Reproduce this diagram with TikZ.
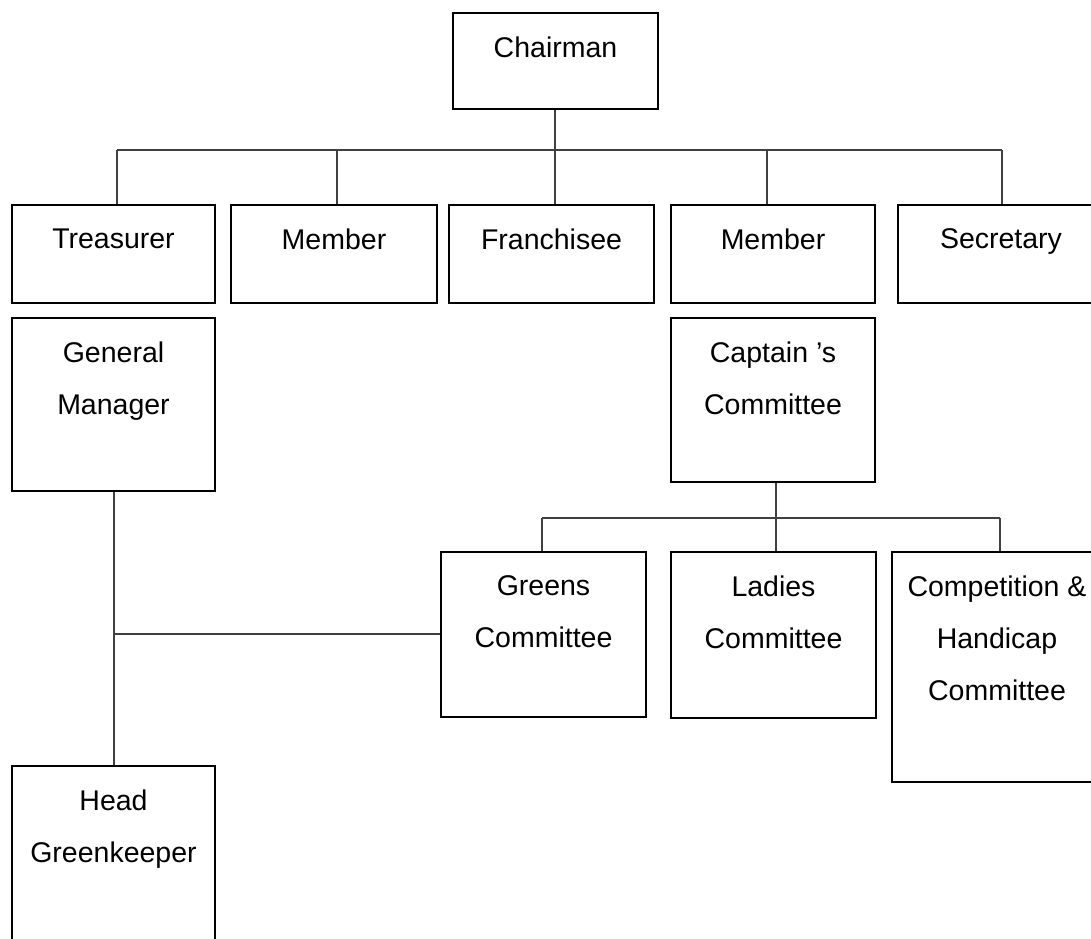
\documentclass[tikz,border=0pt]{standalone}
\usepackage{fontspec}
\setmainfont{Liberation Sans}
\begin{document}
\begin{tikzpicture}[x=1pt,y=-1pt,
  box/.style={draw=black,line width=1.6pt,fill=white,inner sep=0pt},
  lbl/.style={font=\fontsize{28.5}{52}\selectfont,align=center,anchor=north,inner sep=0pt},
  conn/.style={draw=black!75,line width=1.6pt}]
\clip (0,0) rectangle (1091,938);
\fill[white] (0,0) rectangle (1091,938);
% boxes (x1,y1) to (x2,y2)
\newcommand{\orgbox}[6]{%
  \node[box,minimum width={#4-#2},minimum height={#5-#3}] (#1) at ({(#2+#4)/2},{(#3+#5)/2}) {};
  \node[lbl] (#1-t) at ([yshift=-24pt]#1.north) {#6};}
\orgbox{chair}{453}{13}{658}{109}{Chairman}
\orgbox{treas}{12}{205}{215}{303}{Treasurer}
\orgbox{memA}{231}{205}{437}{303}{Member}
\orgbox{fran}{449}{205}{654}{303}{Franchisee}
\orgbox{memB}{671}{205}{875}{303}{Member}
\orgbox{secr}{898}{205}{1104}{303}{Secretary}
\orgbox{gm}{12}{318}{215}{491}{General\\Manager}
\orgbox{capt}{671}{318}{875}{482}{Captain ’s\\Committee}
\orgbox{greens}{441}{552}{646}{717}{Greens\\Committee}
\orgbox{ladies}{671}{552}{876}{718}{Ladies\\Committee}
\orgbox{comp}{892}{552}{1102}{782}{Competition \&\\Handicap\\Committee}
\orgbox{head}{12}{766}{215}{960}{Head\\Greenkeeper}
% top bus
\coordinate (b1) at (117,150);
\coordinate (b2) at (337,150);
\coordinate (b3) at (555,150);
\coordinate (b4) at (767,150);
\coordinate (b5) at (1002,150);
\draw[conn] (b3 |- chair.south) -- (b3);
\draw[conn] (b1) -- (b5);
\draw[conn] (b1) -- (b1 |- treas.north);
\draw[conn] (b2) -- (b2 |- memA.north);
\draw[conn] (b3) -- (b3 |- fran.north);
\draw[conn] (b4) -- (b4 |- memB.north);
\draw[conn] (b5) -- (b5 |- secr.north);
% committee bus
\coordinate (c1) at (542,518);
\coordinate (c2) at (776,518);
\coordinate (c3) at (1000,518);
\draw[conn] (c2 |- capt.south) -- (c2);
\draw[conn] (c1) -- (c3);
\draw[conn] (c1) -- (c1 |- greens.north);
\draw[conn] (c2) -- (c2 |- ladies.north);
\draw[conn] (c3) -- (c3 |- comp.north);
% general manager line
\coordinate (g1) at (114,634);
\draw[conn] (g1 |- gm.south) -- (g1 |- head.north);
\draw[conn] (g1) -- (g1 -| greens.west);
\end{tikzpicture}
\end{document}
